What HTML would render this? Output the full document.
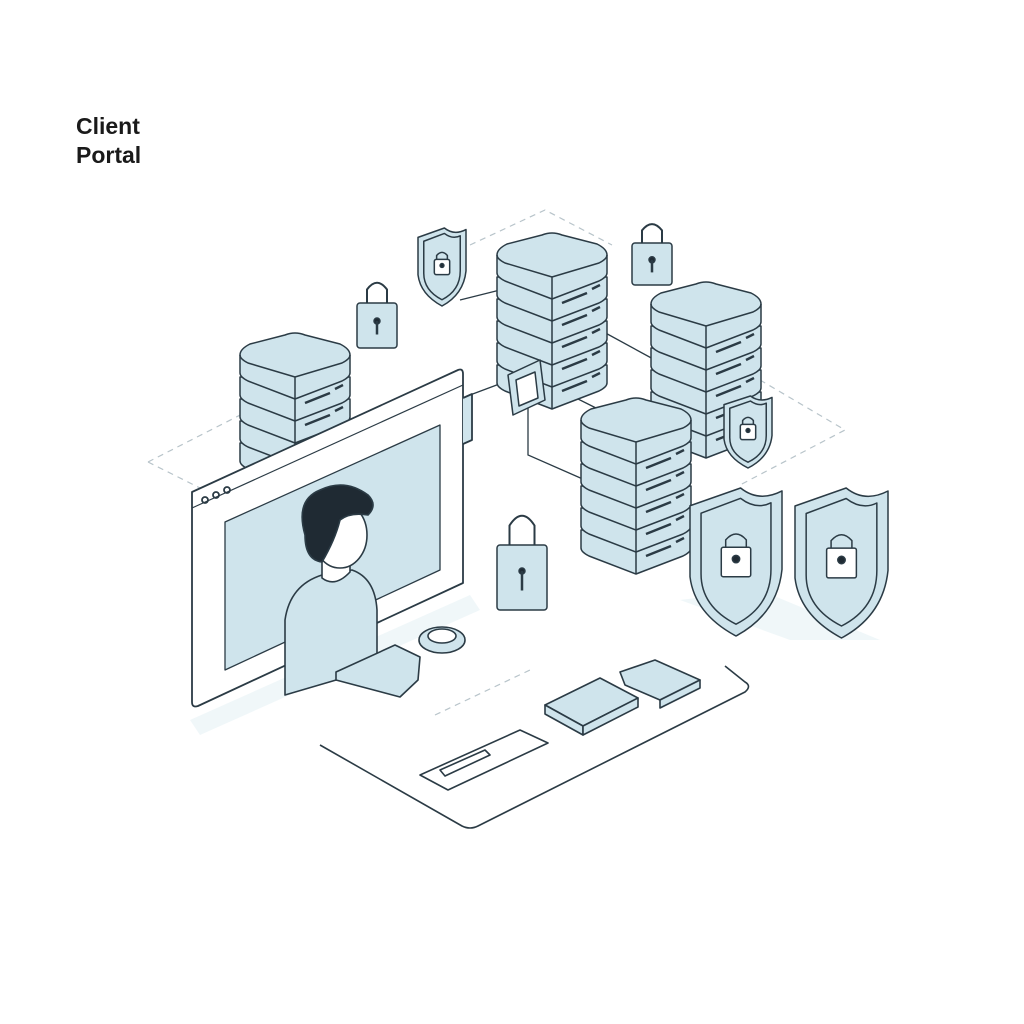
<!DOCTYPE html>
<html><head><meta charset="utf-8"><style>
html,body{margin:0;padding:0;background:#fff;}
svg{display:block}
text{font-family:"Liberation Sans",sans-serif;font-weight:bold;fill:#1a1a1a}
</style></head><body>
<svg id="s" width="1024" height="1024" viewBox="0 0 1024 1024" xmlns="http://www.w3.org/2000/svg">
<rect width="1024" height="1024" fill="#fff"/>
<text x="76" y="134" font-size="23">Client</text>
<text x="76" y="163" font-size="23">Portal</text>
<g fill="none" stroke="#b8c4ca" stroke-width="1.2" stroke-dasharray="6 5">
<path d="M148 462 L250 410"/><path d="M148 462 L200 488"/>
<path d="M470 245 L545 210 L612 245"/>
<path d="M760 380 L845 430 L740 485"/>
<path d="M435 715 L530 670"/>
</g>
<g fill="#e9f3f7" stroke="none" opacity="0.7">
<path d="M190 720 L470 595 L480 610 L200 735Z"/>
<path d="M680 600 L790 640 L880 640 L760 590Z"/>
</g>
<g stroke="#2b3b45" stroke-width="1.3" fill="none">
<path d="M460 300 L500 290"/><path d="M600 330 L655 360"/>
<path d="M528 395 L528 455 L585 480"/><path d="M540 380 L600 410"/>
<path d="M470 395 L510 380"/>
</g>
<g id="srv" stroke="#2b3b45" stroke-width="1.5" stroke-linejoin="round"></g>
<!-- monitor -->
<g stroke="#2b3b45" stroke-width="1.8" stroke-linejoin="round">
<path d="M192 492 L458 370 Q463 368 463 374 L463 583 L198 706 Q192 708 192 702Z" fill="#fff"/>
<path d="M192 508 L463 385" fill="none" stroke-width="1.2"/>
<path d="M225 522 L440 425 L440 570 L225 670Z" fill="#cfe4ec" stroke-width="1.3"/>
<circle cx="205" cy="500" r="3" fill="none"/><circle cx="216" cy="495" r="3" fill="none"/><circle cx="227" cy="490" r="3" fill="none"/>
<path d="M463 398 L472 394 L472 440 L463 444" fill="#cfe4ec"/>
</g>
<!-- person -->
<g stroke="#2b3b45" stroke-width="1.6" stroke-linejoin="round">
<path d="M285 692 L285 620 Q290 585 322 575 L352 570 Q375 578 377 610 L377 668 L285 695Z" fill="#cfe4ec"/>
<path d="M322 560 L322 578 Q335 588 350 572 L350 555Z" fill="#fff"/>
<ellipse cx="340" cy="535" rx="27" ry="33" fill="#fff"/>
<path d="M305 535 Q295 500 320 490 Q345 478 368 495 Q378 505 368 515 Q350 512 340 520 Q335 540 322 562 Q305 560 305 535Z" fill="#1f2a33"/>
<path d="M336 672 L395 645 L420 657 L418 680 L400 697 L336 680Z" fill="#cfe4ec"/>
<ellipse cx="442" cy="640" rx="23" ry="13" fill="#cfe4ec"/>
<ellipse cx="442" cy="636" rx="14" ry="7" fill="#fff"/>
</g>
<!-- platform -->
<g stroke="#2b3b45" stroke-width="1.6" fill="none" stroke-linejoin="round">
<path d="M320 745 L462 826 Q470 830 478 826 L745 692 Q752 686 745 682 L725 666"/>
<path d="M420 775 L520 730 L548 743 L448 790Z"/>
<path d="M440 770 L485 750 L490 755 L445 776Z"/>
<g fill="#cfe4ec">
<path d="M545 705 L600 678 L638 698 L583 726Z"/><path d="M545 705 L545 714 L583 735 L583 726Z"/><path d="M583 726 L583 735 L638 707 L638 698Z"/>
<path d="M620 672 L655 660 L700 680 L660 700 L625 685Z"/><path d="M660 700 L660 708 L700 688 L700 680Z"/>
</g>
</g>
<g id="lk" stroke="#2b3b45" stroke-width="1.5" stroke-linejoin="round"></g>
</svg>
<script>
var NS="http://www.w3.org/2000/svg";
function add(g,tag,attrs){var e=document.createElementNS(NS,tag);for(var k in attrs)e.setAttribute(k,attrs[k]);g.appendChild(e);return e;}
var srv=document.getElementById('srv');
function server(cx,top,n){
  var hw=55,dh=22,lh=22;
  for(var i=n-1;i>=0;i--){
    var y=top+lh*(i+1);
    var d="M"+(cx-hw)+" "+(y+dh)+" L"+(cx-hw)+" "+(y+dh+lh-4)+" Q"+(cx-hw)+" "+(y+dh+lh)+" "+(cx-hw+8)+" "+(y+dh+lh+4)+" L"+cx+" "+(y+2*dh+lh)+" L"+(cx+hw-8)+" "+(y+dh+lh+4)+" Q"+(cx+hw)+" "+(y+dh+lh)+" "+(cx+hw)+" "+(y+dh+lh-4)+" L"+(cx+hw)+" "+(y+dh)+" Z";
    add(srv,'path',{d:d,fill:"#cfe4ec"});
    add(srv,'path',{d:"M"+cx+" "+(y+2*dh)+" L"+cx+" "+(y+2*dh+lh),fill:"none"});
    add(srv,'path',{d:"M"+(cx+10)+" "+(y+2*dh+4)+" L"+(cx+35)+" "+(y+dh+16)+" M"+(cx+40)+" "+(y+dh+12)+" L"+(cx+48)+" "+(y+dh+8),fill:"none","stroke-width":"2.5"});
  }
  var y=top;
  var d="M"+(cx-hw)+" "+(y+dh)+" Q"+(cx-hw)+" "+(y+dh-6)+" "+(cx-hw+10)+" "+(y+dh-11)+" L"+(cx-10)+" "+(y+2)+" Q"+cx+" "+(y-2)+" "+(cx+10)+" "+(y+2)+" L"+(cx+hw-10)+" "+(y+dh-11)+" Q"+(cx+hw)+" "+(y+dh-6)+" "+(cx+hw)+" "+(y+dh)+" L"+(cx+hw)+" "+(y+dh+lh-4)+" Q"+(cx+hw)+" "+(y+dh+lh)+" "+(cx+hw-8)+" "+(y+dh+lh+4)+" L"+cx+" "+(y+2*dh+lh)+" L"+(cx-hw+8)+" "+(y+dh+lh+4)+" Q"+(cx-hw)+" "+(y+dh+lh)+" "+(cx-hw)+" "+(y+dh+lh-4)+"Z";
  add(srv,'path',{d:d,fill:"#cfe4ec"});
  add(srv,'path',{d:"M"+(cx-hw)+" "+(y+dh)+" Q"+(cx-hw)+" "+(y+dh+4)+" "+(cx-hw+8)+" "+(y+dh+8)+" L"+cx+" "+(y+2*dh)+" L"+(cx+hw-8)+" "+(y+dh+8)+" Q"+(cx+hw)+" "+(y+dh+4)+" "+(cx+hw)+" "+(y+dh)+" M"+cx+" "+(y+2*dh)+" L"+cx+" "+(y+2*dh+lh),fill:"none"});
}
server(295,333,4);
server(552,233,5);
server(706,282,5);
server(636,398,5);
// connector box
add(srv,'path',{d:"M508 375 L540 360 L545 400 L513 415Z",fill:"#cfe4ec"});
add(srv,'path',{d:"M516 380 L535 372 L538 398 L519 406Z",fill:"#fff"});
var lk=document.getElementById('lk');
function shield(x,y,w,h){
  var d="M"+x+" "+(y+h*0.12)+" L"+(x+w*0.55)+" "+y+" Q"+(x+w*0.75)+" "+(y+h*0.1)+" "+(x+w)+" "+(y+h*0.02)+" L"+(x+w)+" "+(y+h*0.55)+" Q"+(x+w*0.95)+" "+(y+h*0.85)+" "+(x+w*0.5)+" "+(y+h)+" Q"+(x+w*0.05)+" "+(y+h*0.85)+" "+x+" "+(y+h*0.6)+"Z";
  add(lk,'path',{d:d,fill:"#cfe4ec"});
  var i=w*0.12;
  var d2="M"+(x+i)+" "+(y+h*0.17)+" L"+(x+w*0.55)+" "+(y+h*0.07)+" Q"+(x+w*0.72)+" "+(y+h*0.15)+" "+(x+w-i)+" "+(y+h*0.1)+" L"+(x+w-i)+" "+(y+h*0.55)+" Q"+(x+w*0.88)+" "+(y+h*0.8)+" "+(x+w*0.5)+" "+(y+h*0.92)+" Q"+(x+w*0.12)+" "+(y+h*0.8)+" "+(x+i)+" "+(y+h*0.58)+"Z";
  add(lk,'path',{d:d2,fill:"#cfe4ec"});
  var cx=x+w*0.5,cy=y+h*0.5,s=w*0.16;
  add(lk,'rect',{x:cx-s,y:cy-s,width:2*s,height:2*s,rx:2,fill:"#fff"});
  add(lk,'path',{d:"M"+(cx-s*0.7)+" "+(cy-s)+" L"+(cx-s*0.7)+" "+(cy-s*1.5)+" Q"+cx+" "+(cy-s*2.3)+" "+(cx+s*0.7)+" "+(cy-s*1.5)+" L"+(cx+s*0.7)+" "+(cy-s),fill:"none"});
  add(lk,'circle',{cx:cx,cy:cy-s*0.2,r:s*0.25,fill:"#1f2a33"});
}
shield(418,228,48,78);
shield(724,396,48,72);
shield(690,488,92,148);
shield(795,488,93,150);
function lock(x,y,w,h){
  add(lk,'path',{d:"M"+(x+w*0.25)+" "+y+" L"+(x+w*0.25)+" "+(y-h*0.3)+" Q"+(x+w*0.5)+" "+(y-h*0.6)+" "+(x+w*0.75)+" "+(y-h*0.3)+" L"+(x+w*0.75)+" "+y,fill:"none","stroke-width":"2"});
  add(lk,'rect',{x:x,y:y,width:w,height:h,rx:3,fill:"#cfe4ec"});
  add(lk,'circle',{cx:x+w/2,cy:y+h*0.4,r:3,fill:"#1f2a33"});
  add(lk,'path',{d:"M"+(x+w/2)+" "+(y+h*0.4)+" L"+(x+w/2)+" "+(y+h*0.7),fill:"none","stroke-width":"2.5"});
}
lock(357,303,40,45);
lock(632,243,40,42);
lock(497,545,50,65);
</script>
</body></html>
